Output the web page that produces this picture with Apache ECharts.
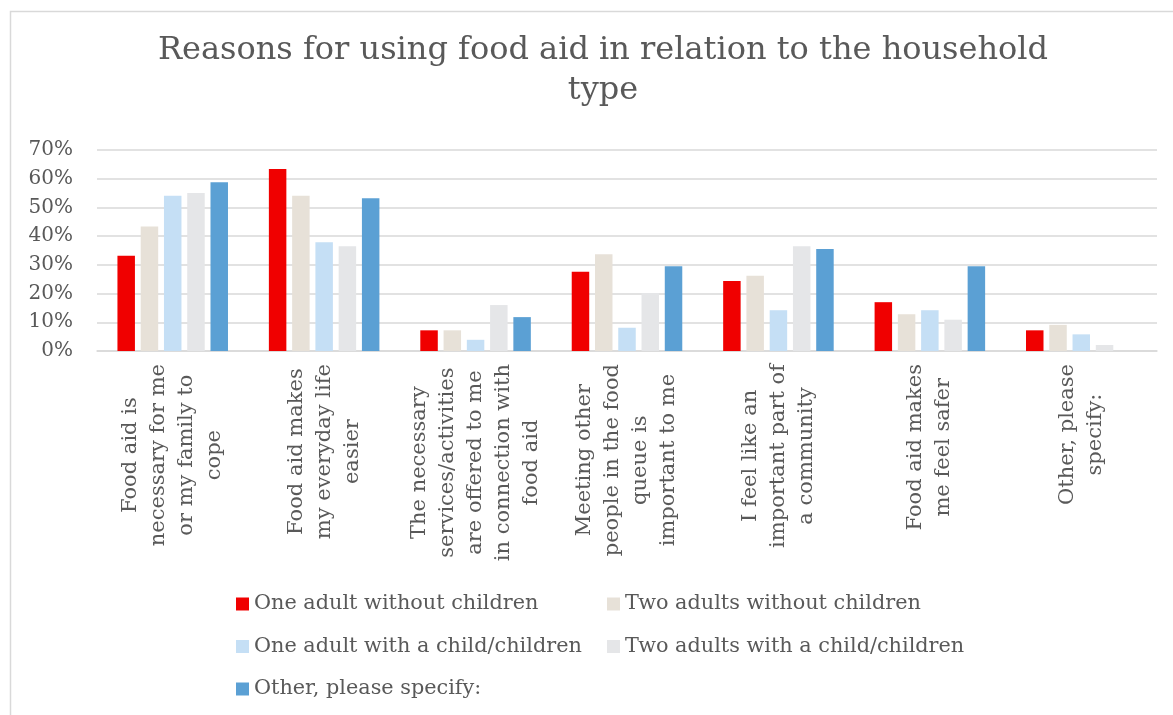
<!DOCTYPE html>
<html>
<head>
<meta charset="utf-8">
<title>Reasons for using food aid in relation to the household type</title>
<script src="https://cdn.jsdelivr.net/npm/echarts@6/dist/echarts.min.js"></script>
<style>
  html, body { margin: 0; padding: 0; background: #ffffff; }
  #chart { width: 1173px; height: 715px; }
</style>
</head>
<body>
<div id="chart"></div>
<script>
// Reasons (x-axis categories), line breaks as they wrap under the axis
const categories = [
  'Food aid is\nnecessary for me\nor my family to\ncope',
  'Food aid makes\nmy everyday life\neasier',
  'The necessary\nservices/activities\nare offered to me\nin connection with\nfood aid',
  'Meeting other\npeople in the food\nqueue is\nimportant to me',
  'I feel like an\nimportant part of\na community',
  'Food aid makes\nme feel safer',
  'Other, please\nspecify:'
];

// Household types (series names)
const seriesNames = [
  'One adult without children',
  'Two adults without children',
  'One adult with a child/children',
  'Two adults with a child/children',
  'Other, please specify:'
];

// Share of respondents (%) per reason, one array per household type
const oneAdultNoChildren   = [33.2, 63.4, 7.2, 27.6, 24.4, 17.0, 7.2];
const twoAdultsNoChildren  = [43.4, 54.1, 7.2, 33.7, 26.2, 12.8, 9.1];
const oneAdultWithChild    = [54.1, 37.9, 3.9, 8.1, 14.2, 14.2, 5.8];
const twoAdultsWithChild   = [55.0, 36.5, 16.0, 20.2, 36.5, 10.9, 2.1];
const otherHousehold       = [58.8, 53.2, 11.8, 29.5, 35.5, 29.5, 0];

// Y-axis ticks (%)
const yMin = 0, yMax = 70, yStep = 10;

const seriesValues = [
  oneAdultNoChildren, twoAdultsNoChildren, oneAdultWithChild,
  twoAdultsWithChild, otherHousehold
];
const seriesColors = ['#f00000', '#e7e1d8', '#c5dff5', '#e5e6e8', '#5ba0d4'];

const FONT = 'DejaVu Serif';
const TEXT = '#595959';
const GRID = '#d9d9d9';

const chart = echarts.init(document.getElementById('chart'), null, { renderer: 'canvas' });

// Two legend columns so the entries line up like a table
const legendCommon = {
  orient: 'vertical',
  top: 588,
  icon: 'rect',
  itemWidth: 13,
  itemHeight: 13,
  itemGap: 20.5,
  selectedMode: false,
  textStyle: { fontFamily: FONT, fontSize: 20.8, color: TEXT, lineHeight: 22 }
};

chart.setOption({
  backgroundColor: '#ffffff',
  animation: false,
  title: {
    text: 'Reasons for using food aid in relation to the household\ntype',
    left: 598,
    top: 26,
    textAlign: 'center',
    textStyle: {
      fontFamily: FONT, fontSize: 32, fontWeight: 'normal',
      color: TEXT, lineHeight: 40
    }
  },
  graphic: [{
    type: 'rect',
    shape: { x: 10.5, y: 11.5, width: 1200, height: 800 },
    style: { fill: 'none', stroke: GRID, lineWidth: 1.5 },
    silent: true
  }],
  legend: [
    Object.assign({ left: 231, data: [seriesNames[0], seriesNames[2], seriesNames[4]] }, legendCommon),
    Object.assign({ left: 602, data: [seriesNames[1], seriesNames[3]] }, legendCommon)
  ],
  grid: {
    left: 97, right: 16, top: 150, bottom: 364,
    containLabel: false,
    outerBoundsMode: 'none'
  },
  xAxis: {
    type: 'category',
    data: categories,
    axisLine: { show: true, lineStyle: { color: GRID, width: 1.5 } },
    axisTick: { show: false },
    axisLabel: {
      interval: 0,
      rotate: 90,
      margin: 13,
      formatter: function (value) {
        return value.split('\n').map(function (line) { return '{c|' + line + '}'; }).join('\n');
      },
      rich: {
        c: { align: 'center', fontFamily: FONT, fontSize: 21, color: TEXT, lineHeight: 28 }
      }
    }
  },
  yAxis: {
    type: 'value',
    min: yMin,
    max: yMax,
    interval: yStep,
    axisLine: { show: false },
    axisTick: { show: false },
    axisLabel: {
      margin: 24,
      formatter: '{value}%',
      fontFamily: FONT, fontSize: 20, color: TEXT
    },
    splitLine: { show: true, lineStyle: { color: GRID, width: 1.5 } }
  },
  series: seriesNames.map(function (name, i) {
    return {
      name: name,
      type: 'bar',
      data: seriesValues[i],
      barGap: '33%',
      barCategoryGap: '27%',
      itemStyle: { color: seriesColors[i] },
      emphasis: { disabled: true }
    };
  })
});
</script>
</body>
</html>
